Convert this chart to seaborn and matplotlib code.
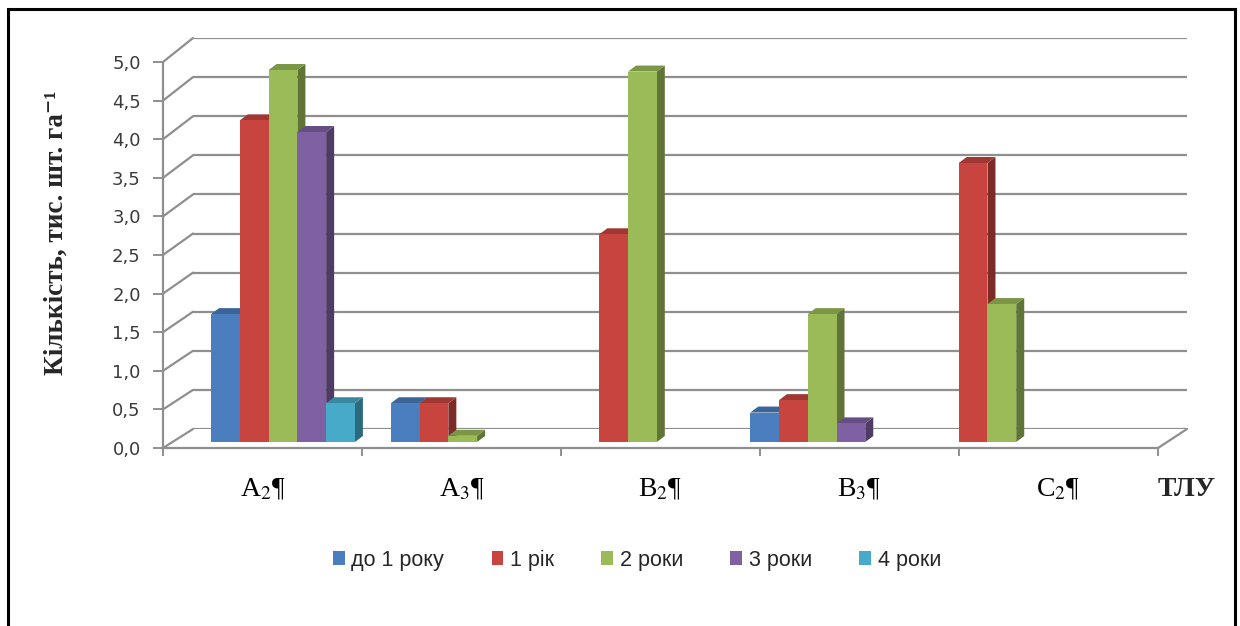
import numpy as np
import pandas as pd
import matplotlib
matplotlib.use("Agg")
import matplotlib.pyplot as plt
from matplotlib.patches import Polygon, Rectangle, Patch, ConnectionPatch
import matplotlib.colors as mcolors
import seaborn as sns

# ---- data -------------------------------------------------------------
sites = ["А$_2$¶", "А$_3$¶", "В$_2$¶", "В$_3$¶", "С$_2$¶"]
ages = ["до 1 року", "1 рік", "2 роки", "3 роки", "4 роки"]
under_1 = [1.65, 0.50, 0.00, 0.38, 0.00]
year_1 = [4.15, 0.50, 2.68, 0.54, 3.60]
years_2 = [4.80, 0.08, 4.78, 1.65, 1.78]
years_3 = [4.00, 0.00, 0.00, 0.24, 0.00]
years_4 = [0.50, 0.00, 0.00, 0.00, 0.00]
y_ticks = np.arange(0, 5.01, 0.5)
y_tick_labels = [f"{v:.1f}".replace(".", ",") for v in y_ticks]
colors = ["#4a7ebf", "#c8453f", "#9bbb59", "#7f60a3", "#46aac8"]

series = [under_1, year_1, years_2, years_3, years_4]
df = pd.DataFrame(
    [(s, a, v) for a, vals in zip(ages, series) for s, v in zip(sites, vals)],
    columns=["site", "age", "value"],
)

# ---- styling ----------------------------------------------------------
sns.set_style("white")
plt.rcParams["font.family"] = ["DejaVu Sans"]
plt.rcParams["mathtext.fontset"] = "stix"
GRID = "#8f8f8f"
SERIF = ["Liberation Serif", "DejaVu Serif"]
W, H = 1240, 626

fig = plt.figure(figsize=(W / 100, H / 100), dpi=100)


def px_rect(left, top, right, bottom):
    return [left / W, 1 - bottom / H, (right - left) / W, (bottom - top) / H]


# back wall of the 3D box
ax_back = fig.add_axes(px_rect(193, 38, 1187, 429), zorder=0)
ax_back.set_xlim(0, 1)
ax_back.set_ylim(0, 5)
ax_back.axis("off")
ax_back.hlines(y_ticks, 0, 1, color=GRID, lw=1.6)

# front plane: value axis and category axis
ax_front = fig.add_axes(px_rect(163, 62, 1158, 448), zorder=1)
ax_front.patch.set_alpha(0)
ax_front.set_xlim(-0.5, 4.5)
ax_front.set_ylim(0, 5)
for side in ("top", "right"):
    ax_front.spines[side].set_visible(False)
for side in ("left", "bottom"):
    ax_front.spines[side].set_color(GRID)
    ax_front.spines[side].set_linewidth(1.6)
ax_front.set_yticks(y_ticks)
ax_front.set_yticklabels(y_tick_labels, fontsize=13, color="#3a3a3a")
ax_front.tick_params(axis="y", direction="out", length=7, width=1.4,
                     color=GRID, pad=9, left=True)
ax_front.set_xticks(np.arange(-0.5, 4.6, 1.0))
ax_front.set_xticklabels([])
ax_front.set_xticks(np.arange(5), minor=True)
ax_front.set_xticklabels(sites, minor=True, fontsize=20,
                         family="Liberation Serif", color="black")
ax_front.tick_params(axis="x", which="major", direction="out", length=6,
                     width=1.4, color=GRID, bottom=True)
ax_front.tick_params(axis="x", which="minor", length=0, pad=21, bottom=True)
ax_front.grid(False)

# side-wall diagonals and floor edge
for v in y_ticks:
    con = ConnectionPatch(xyA=(-0.5, v), coordsA=ax_front.transData,
                          xyB=(0, v), coordsB=ax_back.transData,
                          color=GRID, lw=1.6)
    ax_back.add_artist(con)
ax_back.add_artist(ConnectionPatch(xyA=(4.5, 0), coordsA=ax_front.transData,
                                   xyB=(1, 0), coordsB=ax_back.transData,
                                   color=GRID, lw=1.6))

# bar plane
bar_left, bar_right, bar_top, bar_bottom = 172, 1167, 54.5, 442
ax_bars = fig.add_axes(px_rect(bar_left, bar_top, bar_right, bar_bottom), zorder=2)
ax_bars.patch.set_alpha(0)
sns.barplot(data=df, x="site", y="value", hue="age", order=sites,
            hue_order=ages, palette=colors, saturation=1, width=0.8,
            errorbar=None, legend=False, linewidth=0, ax=ax_bars)
x_lo, x_hi = -0.6177, 4.919
ax_bars.set_xlim(x_lo, x_hi)
ax_bars.set_ylim(0, 5)
ax_bars.axis("off")

# depth of each column, converted from pixels to data units
dx = 8 * (x_hi - x_lo) / (bar_right - bar_left)
dy = 6 * 5 / (bar_bottom - bar_top)

bars = [p for p in ax_bars.patches if np.isfinite(p.get_height()) and p.get_height() > 0]
bars.sort(key=lambda p: p.get_x())
for k, p in enumerate(bars):
    x0, w, h = p.get_x(), p.get_width(), p.get_height()
    rgb = np.array(mcolors.to_rgb(p.get_facecolor()))
    top = Polygon([(x0, h), (x0 + w, h), (x0 + w + dx, h + dy), (x0 + dx, h + dy)],
                  closed=True, fc=rgb * 0.8, ec="none", zorder=2 + 2 * k, clip_on=False)
    side = Polygon([(x0 + w, 0), (x0 + w + dx, dy), (x0 + w + dx, h + dy), (x0 + w, h)],
                   closed=True, fc=rgb * 0.62, ec="none", zorder=2 + 2 * k, clip_on=False)
    ax_bars.add_patch(side)
    ax_bars.add_patch(top)
    p.set_zorder(3 + 2 * k)
    p.set_clip_on(False)

# axis titles
fig.text(56 / W, 1 - 233 / H, "Кількість, тис. шт. га⁻¹",
         rotation=90, ha="center", va="center", family=SERIF,
         weight="bold", fontsize=19.5)
fig.text(1187 / W, 1 - 490 / H, "ТЛУ", ha="center", va="center",
         family=SERIF, weight="bold", fontsize=20)

# legend
handles = [Patch(facecolor=c, edgecolor="none") for c in colors]
fig.legend(handles, ages, loc="center", bbox_to_anchor=(637 / W, 1 - 560 / H),
           ncol=5, frameon=False, handlelength=0.55, handleheight=0.65,
           handletextpad=0.3, columnspacing=2.2,
           prop={"family": "Liberation Sans", "size": 15.5})

# frame around the whole figure
fig.add_artist(Rectangle((8 / W, -0.05), (1235 - 8) / W, 1 - 9 / H + 0.05,
                         transform=fig.transFigure, fill=False, lw=2.2,
                         ec="black", zorder=10))

fig.savefig("out.png", dpi=100)
